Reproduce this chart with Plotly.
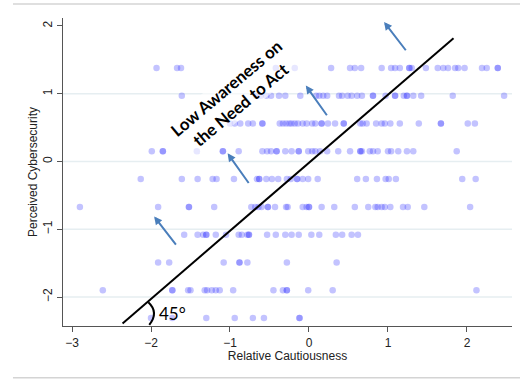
import plotly.graph_objects as go

# Perceived cybersecurity levels (one row of respondents per level)
row_levels = [1.38, 0.97, 0.56, 0.15, -0.26, -0.67, -1.08, -1.49, -1.90, -2.31]

# Relative cautiousness of respondents in each row (repeated values = overlapping respondents)
row_138 = [-1.93, -1.67, -1.62, -0.42, -0.18, 0.28, 0.52, 0.58, 0.66, 0.92, 1.04, 1.09,
           1.15, 1.27, 1.27, 1.30, 1.48, 1.63, 1.70, 1.76, 1.85, 1.89, 1.97, 2.19, 2.25,
           2.39, 2.39]
row_097 = [-1.61, -0.67, -0.61, -0.54, -0.48, -0.38, -0.30, -0.11, 0.09, 0.13, 0.18, 0.23,
           0.38, 0.42, 0.49, 0.54, 0.61, 0.67, 0.81, 0.81, 0.97, 1.09, 1.09, 1.20, 1.24,
           1.24, 1.32, 1.42, 1.82, 2.47]
row_056 = [-1.00, -0.94, -0.87, -0.77, -0.71, -0.59, -0.59, -0.37, -0.33, -0.29, -0.25,
           -0.22, -0.18, -0.14, -0.08, -0.03, 0.04, 0.08, 0.16, 0.16, 0.24, 0.33, 0.44,
           0.44, 0.65, 0.68, 0.73, 0.85, 0.92, 0.96, 1.03, 1.15, 1.39, 1.67, 1.67, 2.01,
           2.10]
row_015 = [-1.99, -1.85, -1.85, -1.42, -1.09, -1.09, -0.89, -0.59, -0.53, -0.48, -0.41,
           -0.41, -0.30, -0.22, -0.13, -0.13, -0.01, 0.04, 0.08, 0.14, 0.23, 0.37, 0.52,
           0.65, 0.65, 0.67, 0.77, 0.81, 0.87, 1.00, 1.04, 1.13, 1.24, 1.32, 1.87]
row_m026 = [-2.13, -1.61, -1.41, -1.22, -1.17, -0.95, -0.66, -0.63, -0.63, -0.54, -0.47,
            -0.39, -0.28, -0.23, -0.15, -0.15, -0.08, -0.01, 0.11, 0.61, 0.72, 0.86, 0.97,
            1.01, 1.10, 1.94, 2.11]
row_m067 = [-2.90, -1.91, -1.52, -1.52, -1.20, -0.73, -0.68, -0.64, -0.60, -0.52, -0.52,
            -0.43, -0.29, -0.27, -0.08, -0.03, 0.00, 0.00, 0.16, 0.32, 0.58, 0.75, 0.84,
            0.87, 0.92, 0.96, 1.03, 1.19, 1.25, 1.46, 2.04]
row_m108 = [-1.58, -1.41, -1.34, -1.30, -1.30, -1.18, -1.05, -0.89, -0.85, -0.78, -0.76,
            -0.76, -0.53, -0.42, -0.30, -0.22, -0.13, 0.03, 0.13, 0.34, 0.42, 0.54, 0.62]
row_m149 = [-1.91, -1.77, -1.08, -0.88, -0.88, -0.78, -0.28, 0.35]
row_m190 = [-2.61, -1.73, -1.73, -1.53, -1.50, -1.32, -1.29, -1.23, -1.18, -1.13, -0.96,
            -0.45, -0.33, -0.28, -0.28, -0.01, 0.30, 2.12]
row_m231 = [-2.00, -1.73, -1.30, -0.94, -0.71, -0.57, -0.12, -0.12]

rows = [row_138, row_097, row_056, row_015, row_m026, row_m067,
        row_m108, row_m149, row_m190, row_m231]

# 45-degree reference line endpoints
diag_x = [-2.36, 1.83]
diag_y = [-2.39, 1.82]

# Arrows pointing towards the upper-left (tail -> head)
arrow_tail_x = [1.24, 0.24, -0.75, -1.67]
arrow_tail_y = [1.62, 0.66, -0.34, -1.25]
arrow_head_x = [0.95, -0.04, -1.03, -1.96]
arrow_head_y = [2.06, 1.12, 0.12, -0.81]

x_ticks = [-3, -2, -1, 0, 1, 2]
y_ticks = [-2, -1, 0, 1, 2]
x_range = [-3.114, 2.570]
y_range = [-2.428, 2.118]

xs, ys = [], []
for level, vals in zip(row_levels, rows):
    xs.extend(vals)
    ys.extend([level] * len(vals))

fig = go.Figure()

# Horizontal grid lines
for gy in [-2, -1, 0, 1]:
    fig.add_shape(type="line", xref="paper", x0=0, x1=1, yref="y", y0=gy, y1=gy,
                  line=dict(color="#e6eef1", width=1.5), layer="below")

fig.add_trace(go.Scatter(
    x=xs, y=ys, mode="markers",
    marker=dict(size=6.5, color="rgba(40,40,255,0.28)", line=dict(width=0)),
    hoverinfo="skip", showlegend=False,
))

fig.add_trace(go.Scatter(
    x=diag_x, y=diag_y, mode="lines",
    line=dict(color="black", width=2),
    hoverinfo="skip", showlegend=False,
))

# Angle arc and its label
fig.add_shape(type="path", xref="x", yref="y",
              path="M -2.034,-2.078 Q -1.896,-2.227 -2.022,-2.413",
              line=dict(color="black", width=2))
fig.add_annotation(x=-1.93, y=-2.24, xref="x", yref="y", text="45°",
                   showarrow=False, xanchor="left", yanchor="middle",
                   font=dict(family="Lato", size=17, color="black"))

fig.add_annotation(x=-0.96, y=0.96, xref="x", yref="y",
                   text="<b>Low Awareness on<br>the Need to Act</b>",
                   showarrow=False, textangle=-40, align="center",
                   bgcolor="rgba(255,255,255,0.6)", borderpad=0,
                   font=dict(family="Lato", size=16.8, color="black"))

for tx, ty, hx, hy in zip(arrow_tail_x, arrow_tail_y, arrow_head_x, arrow_head_y):
    fig.add_annotation(x=hx, y=hy, ax=tx, ay=ty, xref="x", yref="y",
                       axref="x", ayref="y", text="", showarrow=True,
                       arrowhead=2, arrowsize=0.8, arrowwidth=2,
                       arrowcolor="#4a7ebb")

# Outer frame lines above and below the chart
for py in [1.0455, -0.168]:
    fig.add_shape(type="line", xref="paper", yref="paper",
                  x0=-0.1114, x1=1.02, y0=py, y1=py,
                  line=dict(color="#d4d4d4", width=1.5))

axis_font = dict(family="Liberation Sans", size=12, color="#222")
fig.update_layout(
    width=520, height=379,
    margin=dict(l=63, r=8, t=18, b=53),
    paper_bgcolor="white", plot_bgcolor="white",
    font=axis_font,
    xaxis=dict(range=x_range, tickvals=x_ticks, ticks="outside", ticklen=5,
               tickcolor="#555", showline=True, linecolor="#555", linewidth=1.2,
               showgrid=False, zeroline=False, tickfont=axis_font,
               title=dict(text="Relative Cautiousness", font=axis_font, standoff=2)),
    yaxis=dict(range=y_range, tickvals=y_ticks, ticks="outside", ticklen=5,
               tickcolor="#555", showline=True, linecolor="#555", linewidth=1.2,
               showgrid=False, zeroline=False, tickangle=-90, tickfont=axis_font,
               title=dict(text="Perceived Cybersecurity", font=axis_font, standoff=0)),
)

fig.write_html("out.html")
